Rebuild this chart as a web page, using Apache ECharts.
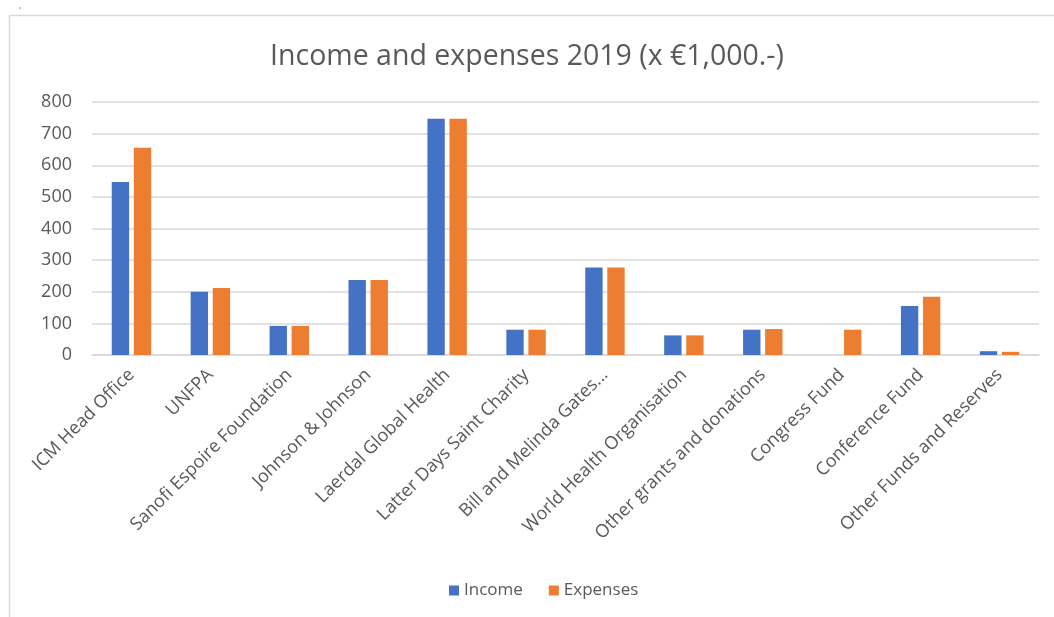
<!DOCTYPE html>
<html>
<head>
<meta charset="utf-8">
<script src="https://cdn.jsdelivr.net/npm/echarts@6/dist/echarts.min.js"></script>
<style>
html,body{margin:0;padding:0;background:#fff;}
#c{width:1054px;height:617px;}
</style>
</head>
<body>
<div id="c"></div>
<script>
const categories = ["ICM Head Office","UNFPA","Sanofi Espoire Foundation","Johnson & Johnson","Laerdal Global Health","Latter Days Saint Charity","Bill and Melinda Gates...","World Health Organisation","Other grants and donations","Congress Fund","Conference Fund","Other Funds and Reserves"];
const income = [547, 200, 92, 237, 747, 80, 277, 62, 80, 0, 155, 12];
const expenses = [655, 212, 92, 237, 747, 80, 277, 62, 82, 80, 184, 10];
const yTicks = [0, 100, 200, 300, 400, 500, 600, 700, 800];

const FONT = "Open Sans";
const TXT = "#595959";
const chart = echarts.init(document.getElementById('c'));
chart.setOption({
  animation: false,
  textStyle: {fontFamily: FONT},
  graphic: [
    {type: 'rect', shape: {x: 9.5, y: 15.5, width: 1100, height: 700}, style: {fill: 'none', stroke: '#d9d9d9', lineWidth: 1.5}},
    {type: 'circle', shape: {cx: 20, cy: 8, r: 0.8}, style: {fill: '#777'}}
  ],
  title: {
    text: "Income and expenses 2019 (x €1,000.-)",
    left: 'center', top: 37,
    textStyle: {fontFamily: FONT, fontSize: 28.5, fontWeight: 'normal', color: TXT}
  },
  legend: {
    data: ['Income', 'Expenses'],
    bottom: 13, left: 444,
    itemWidth: 10, itemHeight: 10, itemGap: 26, icon: 'rect',
    textStyle: {fontFamily: FONT, fontSize: 17, color: TXT}
  },
  grid: {left: 92, right: 15, top: 102, bottom: 262},
  xAxis: {
    type: 'category', data: categories,
    axisLine: {show: true, lineStyle: {color: '#d9d9d9', width: 1.5}},
    axisTick: {show: false},
    axisLabel: {rotate: 45, fontSize: 18, color: TXT, fontFamily: FONT, margin: 17, interval: 0}
  },
  yAxis: {
    type: 'value', min: 0, max: 800, interval: 100,
    axisLine: {show: false}, axisTick: {show: false},
    splitLine: {lineStyle: {color: '#d9d9d9', width: 1.5}},
    axisLabel: {fontSize: 18, color: TXT, fontFamily: FONT, margin: 20,
      formatter: v => yTicks.includes(v) ? String(v) : ''}
  },
  series: [
    {name: 'Income', type: 'bar', data: income, barWidth: '22%', barGap: '27%', itemStyle: {color: '#4472C4'}},
    {name: 'Expenses', type: 'bar', data: expenses, barWidth: '22%', barGap: '27%', itemStyle: {color: '#ED7D31'}}
  ]
});
</script>
</body>
</html>
